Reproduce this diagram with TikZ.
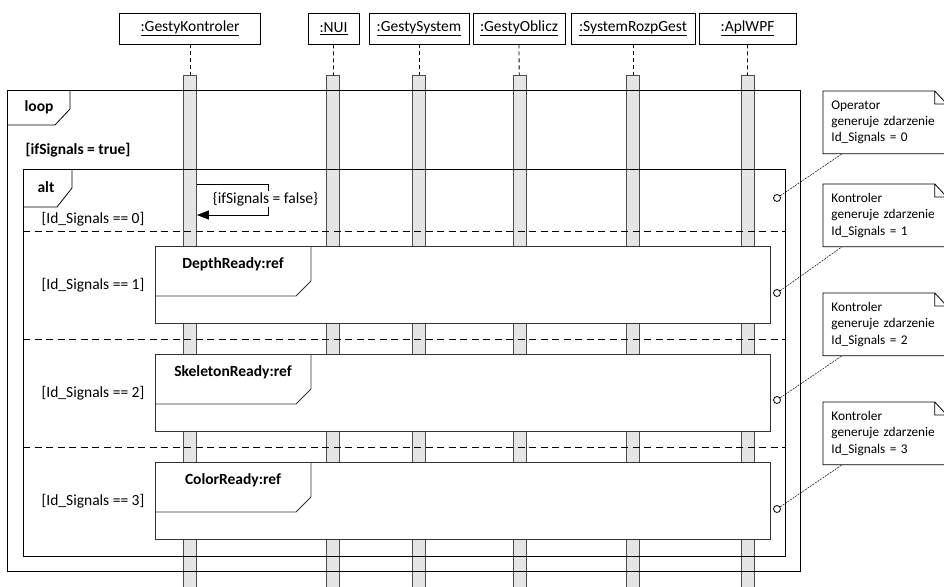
\documentclass[tikz,border=0pt]{standalone}
\usepackage{fontspec}
\setmainfont{Carlito}
\usetikzlibrary{arrows.meta}
\newcommand\diafont{\fontsize{15.5}{19}\selectfont}
\newcommand\notefont{\fontsize{13.3}{16.4}\selectfont}
\tikzset{
  head/.style={draw,minimum height=31pt,inner sep=2pt},
  bar/.style={draw=black!70,fill=black!10,minimum width=13pt,minimum height=530pt,anchor=north,inner sep=0pt},
  life/.style={dash pattern=on 4pt off 3pt},
  sep/.style={dash pattern=on 7pt off 4.5pt},
  reffr/.style={draw=black!80,fill=white,anchor=north west,minimum width=615pt,minimum height=77pt},
  note/.style={anchor=north west,minimum width=123pt,minimum height=62pt,text width=107pt,inner xsep=8pt,inner ysep=0pt,align=left,font=\notefont},
  dot/.style={circle,draw,fill=white,inner sep=0pt,minimum size=7pt},
  link/.style={line width=0.5pt,dash pattern=on 2pt off 1pt},
  msg/.style={-{Triangle[length=12pt,width=9pt]}},
  bold/.style={font=\diafont\bfseries}
}
\begin{document}
\begin{tikzpicture}[x=1pt,y=-1pt,line width=0.8pt,font=\diafont]
\useasboundingbox (0,0) rectangle (944,586);
\clip (0,0) rectangle (944,586);
% lifelines
\node[head,minimum width=141pt] (k) at (190,28.5) {\underline{:GestyKontroler}};
\node[head,minimum width=51pt] (n) at (333.5,28.5) {\underline{:NUI}};
\node[head,minimum width=100pt] (gs) at (419,28.5) {\underline{:GestySystem}};
\node[head,minimum width=92pt] (go) at (519,28.5) {\underline{:GestyOblicz}};
\node[head,minimum width=124pt] (sr) at (633,28.5) {\underline{:SystemRozpGest}};
\node[head,minimum width=97pt] (ap) at (747.5,28.5) {\underline{:AplWPF}};
\node[bar] (bk) at (190,75) {};
\node[bar] (bn) at (333,75) {};
\node[bar] (bgs) at (419,75) {};
\node[bar] (bgo) at (520,75) {};
\node[bar] (bsr) at (633,75) {};
\node[bar] (bap) at (748,75) {};
\draw[life] (k)--(bk);\draw[life] (n)--(bn);\draw[life] (gs)--(bgs);
\draw[life] (go)--(bgo);\draw[life] (sr)--(bsr);\draw[life] (ap)--(bap);
% loop and alt frames
\draw (7,90) rectangle (800,571);
\draw (7,125) -- (55,125) -- (70,109) -- (70,90);
\node[bold] (lp) at (39,107) {loop};
\node[bold] (gt) at (78,150) {[ifSignals = true]};
\draw (23,169) rectangle (785,556);
\draw (23,207) -- (57,207) -- (72,188) -- (72,169);
\node[bold] (al) at (46,187) {alt};
\draw[sep] (23,231) -- (785,231);
\draw[sep] (23,339) -- (785,339);
\draw[sep] (23,447) -- (785,447);
\node (g0) at (93,219) {[Id\_Signals == 0]};
\node (g1) at (93,285) {[Id\_Signals == 1]};
\node (g2) at (93,393) {[Id\_Signals == 2]};
\node (g3) at (93,501) {[Id\_Signals == 3]};
% self message
\draw[msg] (bk.east |- 0,184) -| (268,199) |- (bk.east |- 0,215);
\node[fill=white,inner sep=1pt] (sf) at (265.5,199) {\{ifSignals = false\}};
% refs
\node[reffr] (d) at (155,246) {};
\draw[black!80] (d.north west) ++(0,50) -- ++(141,0) -- ++(15,-15) -- ++(0,-35);
\node[bold] (dt) at (233,264) {DepthReady:ref};
\node[reffr] (s) at (155,354) {};
\draw[black!80] (s.north west) ++(0,50) -- ++(141,0) -- ++(15,-15) -- ++(0,-35);
\node[bold] (st) at (233,372) {SkeletonReady:ref};
\node[reffr] (c) at (155,462) {};
\draw[black!80] (c.north west) ++(0,50) -- ++(141,0) -- ++(15,-15) -- ++(0,-35);
\node[bold] (ct) at (233,480) {ColorReady:ref};
% notes
\node[note] (n0) at (823,91) {Operator\\generuje zdarzenie\\Id\_Signals = 0};
\node[note] (n1) at (823,184) {Kontroler\\generuje zdarzenie\\Id\_Signals = 1};
\node[note] (n2) at (823,293) {Kontroler\\generuje zdarzenie\\Id\_Signals = 2};
\node[note] (n3) at (823,402) {Kontroler\\generuje zdarzenie\\Id\_Signals = 3};
\draw (n0.south west) |- ([xshift=-12pt]n0.north east) -- ([yshift=-13pt]n0.north east) -- (n0.south east) -- cycle ([xshift=-12pt]n0.north east) |- ([yshift=-13pt]n0.north east);
\draw (n1.south west) |- ([xshift=-12pt]n1.north east) -- ([yshift=-13pt]n1.north east) -- (n1.south east) -- cycle ([xshift=-12pt]n1.north east) |- ([yshift=-13pt]n1.north east);
\draw (n2.south west) |- ([xshift=-12pt]n2.north east) -- ([yshift=-13pt]n2.north east) -- (n2.south east) -- cycle ([xshift=-12pt]n2.north east) |- ([yshift=-13pt]n2.north east);
\draw (n3.south west) |- ([xshift=-12pt]n3.north east) -- ([yshift=-13pt]n3.north east) -- (n3.south east) -- cycle ([xshift=-12pt]n3.north east) |- ([yshift=-13pt]n3.north east);
\node[dot] (c0) at (777,198) {};
\node[dot] (c1) at (777,293) {};
\node[dot] (c2) at (777,400) {};
\node[dot] (c3) at (777,509) {};
\draw[link] (c0) -- ([xshift=19pt]n0.south west);
\draw[link] (c1) -- ([xshift=19pt]n1.south west);
\draw[link] (c2) -- ([xshift=19pt]n2.south west);
\draw[link] (c3) -- ([xshift=19pt]n3.south west);
\end{tikzpicture}
\end{document}
